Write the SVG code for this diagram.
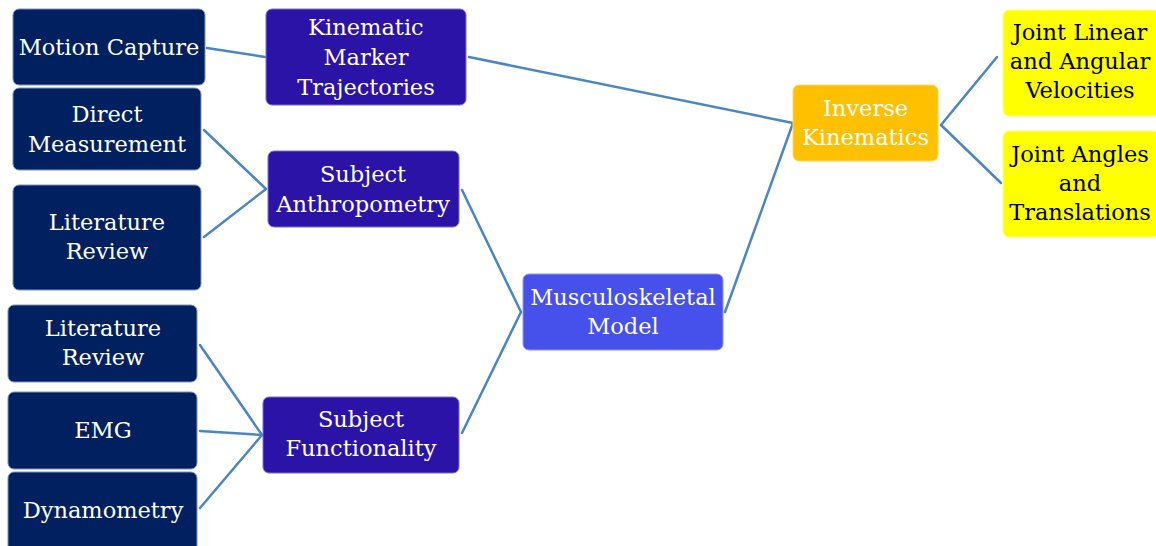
<svg xmlns="http://www.w3.org/2000/svg" width="1156" height="546" viewBox="0 0 1156 546">
  <style>
    .link { fill: none; stroke: #4A86C1; stroke-width: 2.5; stroke-linecap: round; }
    .box { stroke-width: 1; }
    .navy { fill: #002060; stroke: #7f93bd; }
    .violet { fill: #2B13A8; stroke: #7a6fd0; }
    .blue { fill: #4650EA; stroke: #8f96f0; }
    .amber { fill: #FFC000; stroke: #ffd866; }
    .yellow { fill: #FFFF00; stroke: #ffff80; }
    .light { fill: #ffffff; }
    .dark { fill: #000000; }
  </style>

  <rect width="1156" height="546" fill="#ffffff"/>

  <!-- connectors -->
  <g id="connectors">
    <line class="link" x1="207" y1="48" x2="265" y2="57"/>
    <line class="link" x1="469" y1="57" x2="793" y2="123"/>
    <line class="link" x1="204" y1="130" x2="266" y2="189"/>
    <line class="link" x1="204" y1="237" x2="266" y2="189"/>
    <line class="link" x1="462" y1="190" x2="521" y2="312"/>
    <line class="link" x1="462" y1="433" x2="521" y2="312"/>
    <line class="link" x1="725" y1="312" x2="793" y2="123"/>
    <line class="link" x1="941" y1="125" x2="997" y2="57"/>
    <line class="link" x1="941" y1="125" x2="1001" y2="183"/>
    <line class="link" x1="200" y1="345" x2="262" y2="435"/>
    <line class="link" x1="200" y1="431" x2="262" y2="435"/>
    <line class="link" x1="200" y1="508" x2="262" y2="435"/>
  </g>

  <g font-family="'DejaVu Serif', serif" font-size="22.5" text-anchor="middle">
  <!-- source boxes -->
  <g id="motion-capture">
    <rect class="box navy" x="13" y="9" width="192" height="76" rx="6"/>
    <text class="light" x="109" y="55">Motion Capture</text>
  </g>
  <g id="direct-measurement">
    <rect class="box navy" x="13" y="88" width="188" height="82" rx="6"/>
    <text class="light" x="107" y="122">Direct</text>
    <text class="light" x="107" y="152">Measurement</text>
  </g>
  <g id="literature-review-1">
    <rect class="box navy" x="13" y="185" width="188" height="105" rx="6"/>
    <text class="light" x="107" y="230">Literature</text>
    <text class="light" x="107" y="259">Review</text>
  </g>
  <g id="literature-review-2">
    <rect class="box navy" x="8" y="305" width="189" height="77" rx="6"/>
    <text class="light" x="103" y="336">Literature</text>
    <text class="light" x="103" y="365">Review</text>
  </g>
  <g id="emg">
    <rect class="box navy" x="8" y="392" width="189" height="77" rx="6"/>
    <text class="light" x="103" y="438">EMG</text>
  </g>
  <g id="dynamometry">
    <rect class="box navy" x="8" y="472" width="189" height="80" rx="6"/>
    <text class="light" x="103" y="518">Dynamometry</text>
  </g>

  <!-- intermediate inputs -->
  <g id="kinematic-marker-trajectories">
    <rect class="box violet" x="266" y="9" width="200" height="96" rx="6"/>
    <text class="light" x="366" y="35">Kinematic</text>
    <text class="light" x="366" y="65">Marker</text>
    <text class="light" x="366" y="95">Trajectories</text>
  </g>
  <g id="subject-anthropometry">
    <rect class="box violet" x="268" y="151" width="191" height="76" rx="6"/>
    <text class="light" x="363" y="182">Subject</text>
    <text class="light" x="363" y="212">Anthropometry</text>
  </g>
  <g id="subject-functionality">
    <rect class="box violet" x="263" y="397" width="196" height="76" rx="6"/>
    <text class="light" x="361" y="427">Subject</text>
    <text class="light" x="361" y="456">Functionality</text>
  </g>

  <!-- model -->
  <g id="musculoskeletal-model">
    <rect class="box blue" x="523" y="274" width="200" height="76" rx="6"/>
    <text class="light" x="623" y="305">Musculoskeletal</text>
    <text class="light" x="623" y="334">Model</text>
  </g>

  <!-- inverse kinematics -->
  <g id="inverse-kinematics">
    <rect class="box amber" x="793" y="85" width="145" height="76" rx="6"/>
    <text class="light" x="865.5" y="116">Inverse</text>
    <text class="light" x="865.5" y="145">Kinematics</text>
  </g>

  <!-- outputs -->
  <g id="joint-velocities">
    <rect class="box yellow" x="1003" y="10" width="156" height="106" rx="6"/>
    <text class="dark" x="1080" y="40">Joint Linear</text>
    <text class="dark" x="1080" y="69">and Angular</text>
    <text class="dark" x="1080" y="98">Velocities</text>
  </g>
  <g id="joint-angles">
    <rect class="box yellow" x="1003" y="131" width="156" height="106" rx="6"/>
    <text class="dark" x="1080" y="162">Joint Angles</text>
    <text class="dark" x="1080" y="191">and</text>
    <text class="dark" x="1080" y="220">Translations</text>
  </g>
  </g>
</svg>
